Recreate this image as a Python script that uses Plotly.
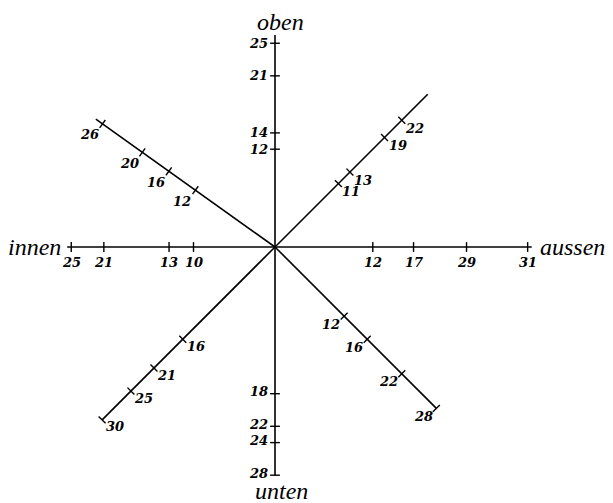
import numpy as np
import plotly.graph_objects as go

# ray names and directions (degrees, counter-clockwise, 0 = "aussen")
rays = ["aussen", "ne", "oben", "nw", "innen", "sw", "unten", "se"]
angles = [0, 45, 90, 144.5, 180, 225, 270, 315]
ray_len = [31.5, 26.5, 26, 27, 25.5, 30, 28, 28]

# tick positions along each ray and the numbers printed next to them
tick_pos = {
    "aussen": [12, 17, 23.5, 31],
    "ne": [11, 13, 19, 22],
    "oben": [12, 14, 21, 25],
    "nw": [12, 16, 20, 26],
    "innen": [10, 13, 21, 25],
    "sw": [16, 21, 25, 30],
    "unten": [18, 22, 24, 28],
    "se": [12, 16, 22, 28],
}
tick_lbl = {
    "aussen": ["12", "17", "29", "31"],
    "ne": ["11", "13", "19", "22"],
    "oben": ["12", "14", "21", "25"],
    "nw": ["12", "16", "20", "26"],
    "innen": ["10", "13", "21", "25"],
    "sw": ["16", "21", "25", "30"],
    "unten": ["18", "22", "24", "28"],
    "se": ["12", "16", "22", "28"],
}
end_words = {"aussen": "aussen", "oben": "oben", "innen": "innen", "unten": "unten"}

S = 8.15          # pixels per unit
CX, CY = 275, 247  # centre of the star in pixels
W, H = 613, 503

# where the numbers sit relative to their tick (pixels)
lbl_style = {
    "aussen": dict(xshift=0, yshift=-15, xanchor="center"),
    "innen": dict(xshift=0, yshift=-15, xanchor="center"),
    "oben": dict(xshift=-5, yshift=0, xanchor="right"),
    "unten": dict(xshift=-5, yshift=2, xanchor="right"),
    "ne": dict(xshift=13, yshift=-8, xanchor="center"),
    "nw": dict(xshift=-13, yshift=-11, xanchor="center"),
    "se": dict(xshift=-13, yshift=-8, xanchor="center"),
    "sw": dict(xshift=13, yshift=-7, xanchor="center"),
}
word_style = {
    "aussen": dict(xanchor="left", yanchor="middle", xshift=6, yshift=0),
    "innen": dict(xanchor="right", yanchor="middle", xshift=-4, yshift=0),
    "oben": dict(xanchor="center", yanchor="bottom", xshift=5, yshift=-2),
    "unten": dict(xanchor="center", yanchor="top", xshift=6, yshift=-1),
}

num_font = dict(family="DejaVu Serif", size=13, color="black", weight="bold", style="italic")
word_font = dict(family="Liberation Serif", size=24, color="black", style="italic")

fig = go.Figure()
annotations = []
half = 0.6

for name, ang, length in zip(rays, angles, ray_len):
    a = np.radians(ang)
    d = np.array([np.cos(a), np.sin(a)])
    p = np.array([-d[1], d[0]])
    fig.add_trace(go.Scatter(x=[0, length * d[0]], y=[0, length * d[1]], mode="lines",
                             line=dict(color="black", width=1.6), hoverinfo="skip", showlegend=False))
    xs, ys = [], []
    for v, t in zip(tick_pos[name], tick_lbl[name]):
        c = v * d
        xs += [c[0] - half * p[0], c[0] + half * p[0], None]
        ys += [c[1] - half * p[1], c[1] + half * p[1], None]
        annotations.append(dict(x=c[0], y=c[1], text=t, showarrow=False, font=num_font,
                                yanchor="middle", **lbl_style[name]))
    fig.add_trace(go.Scatter(x=xs, y=ys, mode="lines", line=dict(color="black", width=1.4),
                             hoverinfo="skip", showlegend=False))
    if name in end_words:
        annotations.append(dict(x=length * d[0], y=length * d[1], text=end_words[name],
                                showarrow=False, font=word_font, **word_style[name]))

fig.update_layout(
    width=W, height=H,
    margin=dict(l=0, r=0, t=0, b=0),
    plot_bgcolor="white", paper_bgcolor="white",
    xaxis=dict(range=[-CX / S, (W - CX) / S], visible=False),
    yaxis=dict(range=[-(H - CY) / S, CY / S], visible=False),
    annotations=annotations,
)

# drop the page's default body margin so the figure fills the window
fig.write_html("out.html", config={"displayModeBar": False},
               post_script="document.body.style.margin='0px';")
